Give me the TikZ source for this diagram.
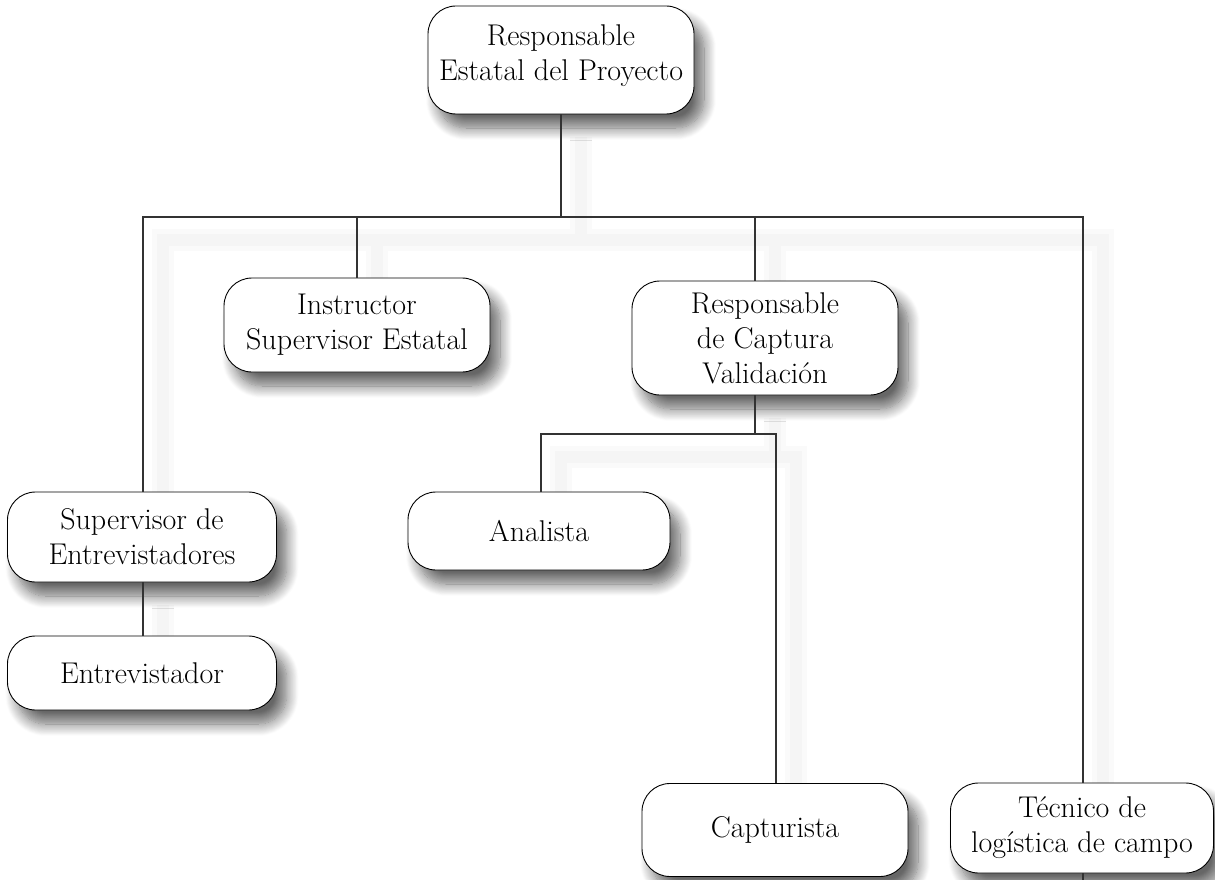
\documentclass[tikz,border=0pt]{standalone}
\usepackage{fontspec}
\usetikzlibrary{shadows.blur,backgrounds}
\tikzset{
  cargo/.style={draw=black, line width=0.9pt, fill=white, rounded corners=28pt,
    align=center, minimum width=266pt, inner sep=4pt,
    font=\fontsize{30}{35}\selectfont,
    blur shadow={shadow xshift=10pt, shadow yshift=-14pt, shadow blur radius=12pt,
      shadow blur steps=14, shadow opacity=60}},
  linea/.style={draw=black!80, line width=1.1pt},
  sombra/.style={draw=black!4, line width=12pt}
}
% connectors of the chart, drawn once for the shadow and once for the lines
\newcommand{\ramas}[1]{%
  \draw[#1] (resp.south) -- (j0);
  \draw[#1] (ja |- sup.north) -- (ja) -- (jd) -- (jd |- tec.north);
  \draw[#1] (jb) -- (jb |- inst.north);
  \draw[#1] (jc) -- (jc |- val.north);
  \draw[#1] (jc |- val.south) -- (k0);
  \draw[#1] (ka |- ana.north) -- (ka) -- (kb) -- (kb |- capt.north);
  \draw[#1] (ja |- sup.south) -- (ja |- ent.north);
  \draw[#1] (jd |- tec.south) -- (fin);
}
\begin{document}
\begin{tikzpicture}[x=1pt,y=-1pt]
\useasboundingbox (0,0) rectangle (1215,880);
\node[cargo, minimum height=108pt] (resp) at (561,60) {Responsable\\Estatal del Proyecto\\[-20pt]\mbox{}};
\node[cargo, minimum height=94pt] (inst) at (357,325) {Instructor\\Supervisor Estatal};
\node[cargo, minimum height=114pt] (val) at (765,338) {Responsable\\de Captura\\Validación};
\node[cargo, minimum height=90pt, minimum width=269pt] (sup) at (142,537) {Supervisor de\\Entrevistadores};
\node[cargo, minimum height=74pt, minimum width=269pt] (ent) at (142,673) {Entrevistador};
\node[cargo, minimum height=78pt, minimum width=262pt] (ana) at (539,531) {Analista};
\node[cargo, minimum height=93pt] (capt) at (775,830) {Capturista};
\node[cargo, minimum height=90pt, minimum width=263pt] (tec) at (1082,828) {Técnico de\\logística de campo};
\coordinate (j0) at (561,217);
\coordinate (ja) at (143,217);
\coordinate (jb) at (357,217);
\coordinate (jc) at (755,217);
\coordinate (jd) at (1083,217);
\coordinate (k0) at (755,434);
\coordinate (ka) at (541,434);
\coordinate (kb) at (776,434);
\coordinate (fin) at (1083,880);
\begin{pgfonlayer}{background}
\begin{scope}[transform canvas={shift={(20pt,-23pt)}}]
\ramas{draw=black!2, line width=22pt}
\ramas{sombra}
\end{scope}
\end{pgfonlayer}
\ramas{linea}
\end{tikzpicture}
\end{document}
